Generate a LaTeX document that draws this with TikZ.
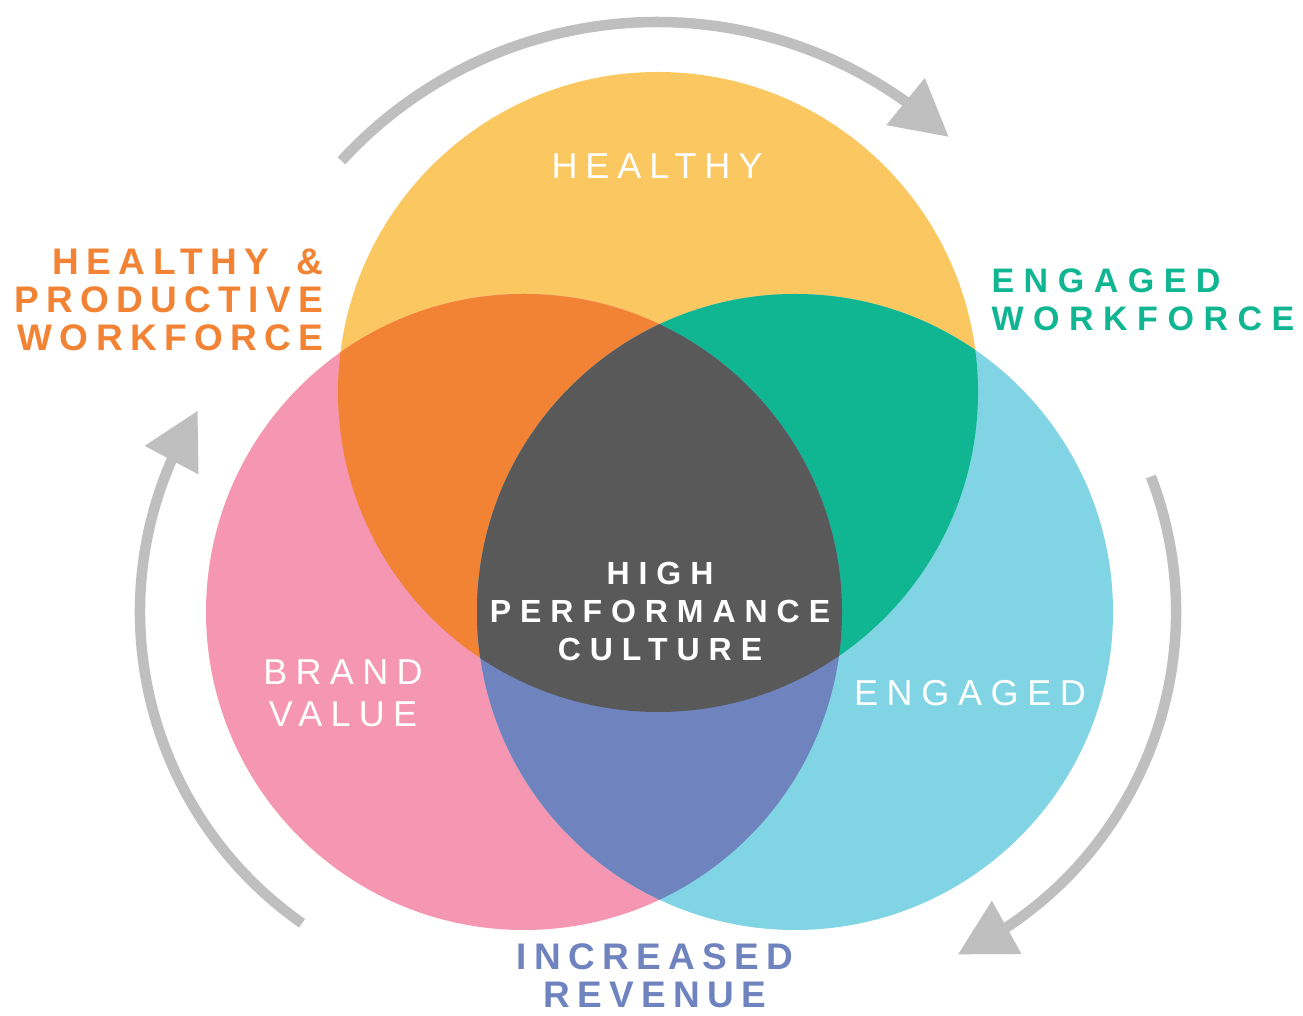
\documentclass[tikz,border=0pt]{standalone}
\usepackage{fontspec}
\setmainfont{Liberation Sans}
\usetikzlibrary{arrows.meta,bending}

\definecolor{healthyfill}{HTML}{FBC760}
\definecolor{brandfill}{HTML}{F596B2}
\definecolor{engagedfill}{HTML}{81D4E4}
\definecolor{workforcefill}{HTML}{F28334}
\definecolor{engagedwf}{HTML}{10B692}
\definecolor{revenuefill}{HTML}{6F83BF}
\definecolor{culturefill}{HTML}{595959}
\definecolor{cyclegray}{HTML}{BFBFBF}

\newcommand{\tracked}[1]{\addfontfeatures{LetterSpace=#1}}

\tikzset{
	cycle/.style={draw=cyclegray, line width=10.5pt, -{Triangle[length=56pt, width=58pt]}},
	inlabel/.style={text=white, font=\fontsize{36}{42}\selectfont, align=center},
	outlabel/.style={font=\fontsize{37}{38}\selectfont\bfseries},
}

\begin{document}
\begin{tikzpicture}[x=1pt, y=1pt]
		\useasboundingbox (0, 0) rectangle (1303, 1016);

		\coordinate (ctop) at (658, 624);
		\coordinate (cleft) at (524, 404);
		\coordinate (cright) at (795, 404);

		% the three circles
		\fill[healthyfill] (ctop) circle (320);
		\fill[brandfill] (cleft) circle (318);
		\fill[engagedfill] (cright) circle (318);

		% pairwise overlaps
		\begin{scope}
			\clip (ctop) circle (320);
			\fill[workforcefill] (cleft) circle (318);
			\fill[engagedwf] (cright) circle (318);
		\end{scope}
		\begin{scope}
			\clip (cleft) circle (318);
			\fill[revenuefill] (cright) circle (318);
		\end{scope}

		% all three
		\begin{scope}
			\clip (ctop) circle (320);
			\clip (cleft) circle (318);
			\fill[culturefill] (cright) circle (318);
		\end{scope}

		% cycle arrows round the outside
		\draw[cycle] ([shift={(137.5:428)}]657, 566) arc[start angle=137.5, end angle=47, radius=428];
		\draw[cycle] ([shift={(21:378)}]798, 404) arc[start angle=21, end angle=-65, radius=378];
		\draw[cycle] ([shift={(235:380)}]520, 404) arc[start angle=235, end angle=148, radius=380];

		% circle labels
		\node[inlabel] (healthy) at (657, 850) {\tracked{22}HEALTHY};
		\node[inlabel] (brand) at (343, 323) {\tracked{23}BRAND\\\tracked{23}VALUE};
		\node[inlabel] (engaged) at (970, 323) {\tracked{24}ENGAGED};
		\node[text=white, font=\fontsize{32}{38}\selectfont\bfseries, align=center] (culture) at (660, 405)
			{\tracked{28}HIGH\\\tracked{28}PERFORMANCE\\\tracked{28}CULTURE};

		% overlap labels outside
		\node[outlabel, text=workforcefill, align=right, anchor=east] (productive) at (327, 716)
			{\tracked{20}HEALTHY\hspace{10pt} \&\\\tracked{20}PRODUCTIVE\\\tracked{20}WORKFORCE};
		\node[outlabel, text=engagedwf, align=left, anchor=west, font=\fontsize{34}{38}\selectfont\bfseries] (engagedwork) at (988, 716)
			{\tracked{28}ENGAGED\\\tracked{28}WORKFORCE};
		\node[outlabel, text=revenuefill, align=center] (revenue) at (655, 40)
			{\tracked{20}INCREASED\\\tracked{20}REVENUE};
	\end{tikzpicture}
\end{document}
